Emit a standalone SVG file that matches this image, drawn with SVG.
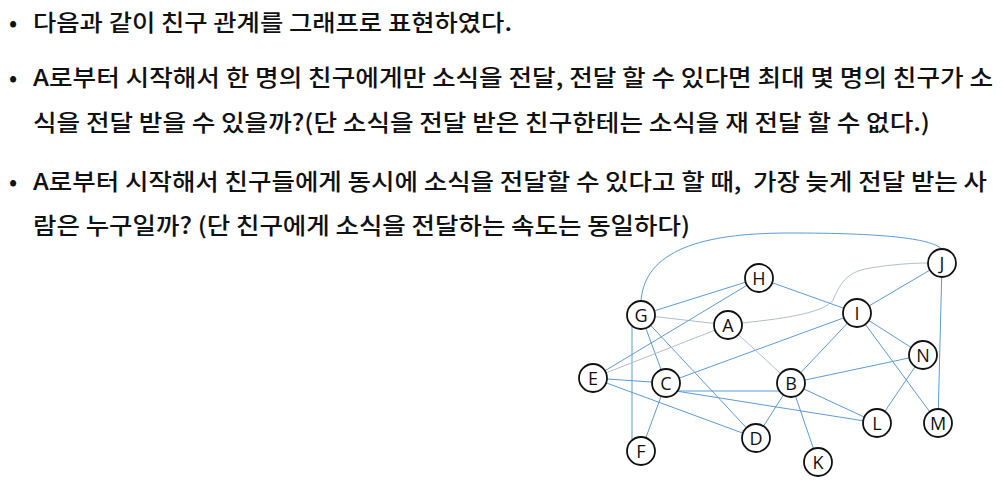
<svg xmlns="http://www.w3.org/2000/svg" width="1003" height="482" viewBox="0 0 1003 482">
<style>
.t{font-family:"Noto Sans CJK KR","Noto Sans",sans-serif;font-size:23px;font-weight:500;fill:#111;white-space:pre;}
.b{stroke:#5B9BD5;stroke-width:1;fill:none;}
.g{stroke:#B4BDCB;stroke-width:1;fill:none;}
.n circle{fill:#fff;stroke:#111;stroke-width:1.8;}
.n text{font-family:"Open Sans","Liberation Sans",sans-serif;font-size:18px;fill:#111;text-anchor:middle;}
</style>
<rect width="1003" height="482" fill="#fff"/>
<g id="text">
<text class="t" x="9" y="31">•</text>
<text class="t" x="33" y="31" textLength="479" lengthAdjust="spacingAndGlyphs">다음과 같이 친구 관계를 그래프로 표현하였다.</text>
<text class="t" x="9" y="86">•</text>
<text class="t" x="33" y="86" textLength="960" lengthAdjust="spacingAndGlyphs">A로부터 시작해서 한 명의 친구에게만 소식을 전달, 전달 할 수 있다면 최대 몇 명의 친구가 소</text>
<text class="t" x="33" y="131" textLength="897" lengthAdjust="spacingAndGlyphs">식을 전달 받을 수 있을까?(단 소식을 전달 받은 친구한테는 소식을 재 전달 할 수 없다.)</text>
<text class="t" x="9" y="190">•</text>
<text class="t" x="33" y="190" textLength="954" lengthAdjust="spacingAndGlyphs" xml:space="preserve">A로부터 시작해서 친구들에게 동시에 소식을 전달할 수 있다고 할 때,  가장 늦게 전달 받는 사</text>
<text class="t" x="33" y="234" textLength="657" lengthAdjust="spacingAndGlyphs">람은 누구일까? (단 친구에게 소식을 전달하는 속도는 동일하다)</text>
</g>
<g id="connectors">
<path class="b" d="M641,301 C645,245 715,233 790,233 C880,233 930,238 942,249"/>
<path class="g" d="M742,323 C790,318 825,312 833,300 C840,285 845,272 870,268 C895,264 915,263 928,263"/>
<line class="b" x1="641" y1="315" x2="759" y2="278"/>
<line class="g" x1="641" y1="315" x2="728" y2="325"/>
<line class="b" x1="641" y1="315" x2="666" y2="383"/>
<line class="b" x1="641" y1="315" x2="756" y2="438"/>
<line class="b" x1="632" y1="320" x2="632" y2="445"/>
<line class="b" x1="593" y1="378" x2="759" y2="278"/>
<line class="b" x1="759" y1="278" x2="857" y2="313"/>
<line class="g" x1="593" y1="378" x2="728" y2="325"/>
<line class="b" x1="593" y1="378" x2="666" y2="383"/>
<line class="b" x1="593" y1="378" x2="756" y2="438"/>
<line class="b" x1="666" y1="383" x2="641" y2="451"/>
<line class="b" x1="666" y1="383" x2="857" y2="313"/>
<line class="b" x1="676" y1="391" x2="791" y2="391"/>
<line class="b" x1="676" y1="391" x2="877" y2="423"/>
<line class="g" x1="728" y1="325" x2="791" y2="383"/>
<line class="b" x1="791" y1="383" x2="857" y2="313"/>
<line class="b" x1="791" y1="383" x2="923" y2="355"/>
<line class="b" x1="791" y1="383" x2="877" y2="423"/>
<line class="b" x1="791" y1="383" x2="756" y2="438"/>
<line class="b" x1="791" y1="383" x2="818" y2="462"/>
<line class="b" x1="857" y1="313" x2="942" y2="263"/>
<line class="b" x1="857" y1="313" x2="923" y2="355"/>
<line class="b" x1="857" y1="313" x2="938" y2="423"/>
<line class="b" x1="923" y1="355" x2="877" y2="423"/>
<line class="b" x1="942" y1="263" x2="938" y2="423"/>
</g>
<g id="node-A" class="n"><circle cx="728" cy="325" r="14"/><text x="728" y="331.5">A</text></g>
<g id="node-B" class="n"><circle cx="791" cy="383" r="14"/><text x="791" y="389.5">B</text></g>
<g id="node-C" class="n"><circle cx="666" cy="383" r="14"/><text x="666" y="389.5">C</text></g>
<g id="node-D" class="n"><circle cx="756" cy="438" r="14"/><text x="756" y="444.5">D</text></g>
<g id="node-E" class="n"><circle cx="593" cy="378" r="14"/><text x="593" y="384.5">E</text></g>
<g id="node-F" class="n"><circle cx="641" cy="451" r="14"/><text x="641" y="457.5">F</text></g>
<g id="node-G" class="n"><circle cx="641" cy="315" r="14"/><text x="641" y="321.5">G</text></g>
<g id="node-H" class="n"><circle cx="759" cy="278" r="14"/><text x="759" y="284.5">H</text></g>
<g id="node-I" class="n"><circle cx="857" cy="313" r="14"/><text x="857" y="319.5">I</text></g>
<g id="node-J" class="n"><circle cx="942" cy="263" r="14"/><text x="942" y="269.5">J</text></g>
<g id="node-K" class="n"><circle cx="818" cy="462" r="14"/><text x="818" y="468.5">K</text></g>
<g id="node-L" class="n"><circle cx="877" cy="423" r="14"/><text x="877" y="429.5">L</text></g>
<g id="node-M" class="n"><circle cx="938" cy="423" r="14"/><text x="938" y="429.5">M</text></g>
<g id="node-N" class="n"><circle cx="923" cy="355" r="14"/><text x="923" y="361.5">N</text></g>
</svg>
